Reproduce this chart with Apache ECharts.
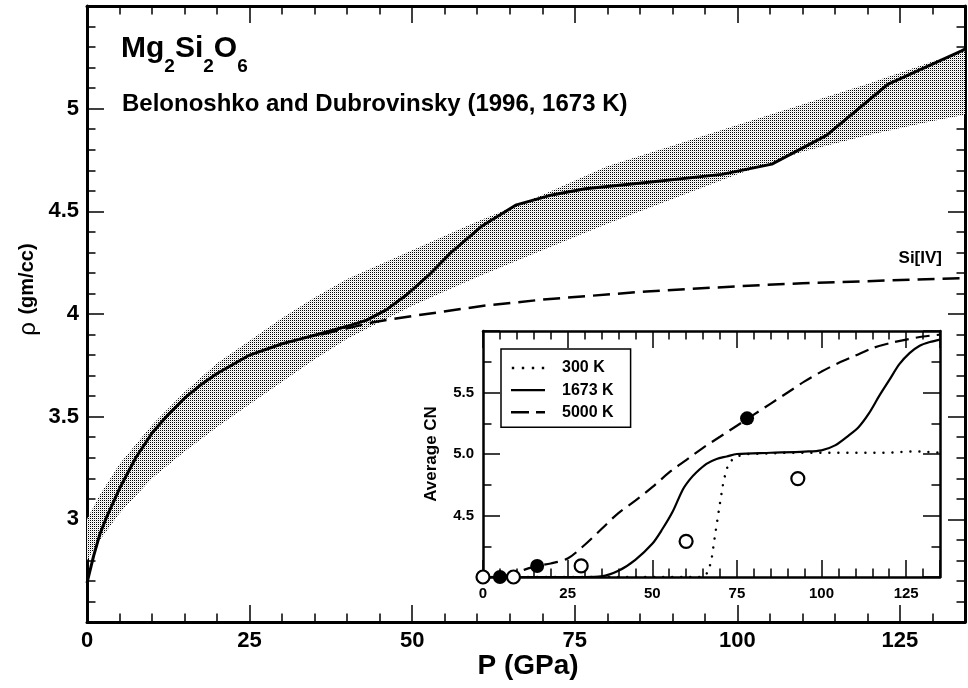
<!DOCTYPE html>
<html><head><meta charset="utf-8">
<script src="https://cdn.jsdelivr.net/npm/echarts@6/dist/echarts.min.js"></script>
<style>html,body{margin:0;padding:0;background:#fff}#c{width:968px;height:688px}</style>
</head><body><div id="c"></div>
<script>
const FONT = '"Liberation Sans", Arial, Helvetica, sans-serif';

// ---------- main panel data ----------
const bandP    = [0, 2, 5, 10, 15, 20, 25, 30, 35, 40, 50, 60, 70, 80, 90, 100, 110, 120, 130, 135];
const bandLow  = [2.80, 2.90, 3.03, 3.20, 3.33, 3.45, 3.56, 3.67, 3.78, 3.88, 4.04, 4.18, 4.31, 4.44, 4.56, 4.68, 4.79, 4.87, 4.94, 4.97];
const bandHigh = [3.00, 3.12, 3.27, 3.46, 3.62, 3.76, 3.87, 3.98, 4.08, 4.17, 4.31, 4.45, 4.58, 4.72, 4.82, 4.92, 5.02, 5.12, 5.23, 5.28];

const curveP   = [0, 1, 2, 3, 5, 7.5, 10, 12.5, 15, 17.5, 20, 25, 30, 33, 36, 40, 43, 46, 49, 52.6, 56, 60.8, 65.9, 71.5, 76.6, 86, 97.6, 105.3, 113.7, 123.2, 134.4, 135];
const curveRho = [2.69, 2.82, 2.93, 3.01, 3.15, 3.30, 3.42, 3.51, 3.59, 3.655, 3.71, 3.80, 3.855, 3.88, 3.905, 3.94, 3.97, 4.02, 4.09, 4.19, 4.30, 4.43, 4.53, 4.58, 4.61, 4.64, 4.68, 4.73, 4.87, 5.12, 5.28, 5.29];

const siP   = [36, 40, 44, 50, 61, 70, 86, 100, 110, 120, 135];
const siRho = [3.90, 3.93, 3.96, 3.99, 4.04, 4.07, 4.11, 4.135, 4.15, 4.16, 4.175];

const mainXLabels = [0, 25, 50, 75, 100, 125];
const mainYLabels = [3, 3.5, 4, 4.5, 5];

// ---------- inset data ----------
const k300P  = [0, 60, 65, 66.5, 67.5, 68.5, 70, 71, 72, 73, 75, 78, 90, 100, 110, 120, 125, 130, 135];
const k300CN = [4.0, 4.0, 4.0, 4.04, 4.14, 4.33, 4.6, 4.77, 4.88, 4.94, 4.98, 5.0, 5.01, 5.01, 5.01, 5.01, 5.02, 5.02, 5.01];

const k1673P  = [0, 30, 35, 40, 45, 50, 53, 56, 59, 61, 63, 66, 69, 72, 75, 85, 95, 100, 104, 108, 111, 114, 117, 120, 123, 126, 129, 132, 135];
const k1673CN = [4.0, 4.0, 4.005, 4.05, 4.14, 4.27, 4.39, 4.53, 4.71, 4.79, 4.85, 4.92, 4.96, 4.98, 5.0, 5.01, 5.02, 5.03, 5.07, 5.15, 5.22, 5.33, 5.47, 5.6, 5.73, 5.82, 5.88, 5.91, 5.93];

const k5000P  = [0, 5, 10, 16, 20, 25, 30, 35, 40, 45, 50, 55, 60, 65, 70, 75, 80, 85, 90, 95, 100, 105, 110, 115, 120, 125, 130, 135];
const k5000CN = [4.0, 4.0, 4.04, 4.09, 4.11, 4.15, 4.26, 4.39, 4.52, 4.62, 4.73, 4.85, 4.95, 5.05, 5.14, 5.23, 5.32, 5.41, 5.50, 5.59, 5.67, 5.74, 5.80, 5.86, 5.90, 5.93, 5.955, 5.97];

const openP  = [0, 9, 29, 60, 93];
const openCN = [4.0, 4.0, 4.09, 4.29, 4.8];
const fillP  = [5, 16, 78];
const fillCN = [4.0, 4.09, 5.29];

const insetXLabels = [0, 25, 50, 75, 100, 125];
const insetYLabels = ['4.5', '5.0', '5.5'];

const zip = (a, b) => a.map((v, i) => [v, b[i]]);

// stipple pattern
const pat = document.createElement('canvas');
pat.width = 2; pat.height = 2;
const pc = pat.getContext('2d');
pc.fillStyle = '#fff'; pc.fillRect(0, 0, 2, 2);
pc.fillStyle = '#000'; pc.fillRect(0, 0, 1, 1);
pc.fillStyle = '#ddd'; pc.fillRect(1, 1, 1, 1);

// text helpers
const mctx = document.createElement('canvas').getContext('2d');
function tw(t, size) { mctx.font = 'bold ' + size + 'px ' + FONT; return mctx.measureText(t).width; }
function txt(text, x, y, font, align, rot) {
  const el = { type: 'text', x: x, y: y, z: 100, style: { text: text, font: font, fill: '#000', align: align, verticalAlign: 'middle', textAlign: align, textVerticalAlign: 'middle' } };
  if (rot) el.rotation = rot;
  return el;
}
const titlePieces = [['Mg', 30, 0], ['2', 19, 1], ['Si', 30, 0], ['2', 19, 1], ['O', 30, 0], ['6', 19, 1]];
const graphics = [];
let tx = 121;
titlePieces.forEach(p => {
  graphics.push(txt(p[0], tx, p[2] ? 67 : 49, 'bold ' + p[1] + 'px ' + FONT, 'left'));
  tx += tw(p[0], p[1]);
});
graphics.push(txt('Belonoshko and Dubrovinsky (1996, 1673 K)', 122, 104, 'bold 24px ' + FONT, 'left'));
graphics.push(txt('Si[IV]', 942, 258, 'bold 17px ' + FONT, 'right'));
graphics.push(txt('P (GPa)', 528, 666, 'bold 28px ' + FONT, 'center'));
graphics.push(txt('(gm/cc)', 27, 279, 'bold 20px ' + FONT, 'center', Math.PI / 2));
graphics.push(txt('ρ', 28, 329, 'normal 24px ' + FONT, 'center', Math.PI / 2));
graphics.push(txt('Average CN', 431, 454, 'bold 17px ' + FONT, 'center', Math.PI / 2));

function axisCommon(lw, fs, margin) {
  return {
    axisLine: { show: true, onZero: false, lineStyle: { color: '#000', width: lw } },
    axisTick: { show: true, inside: true, length: 17, lineStyle: { color: '#000', width: 1.5 } },
    splitLine: { show: false },
    axisLabel: { show: true, color: '#000', fontFamily: FONT, fontWeight: 'bold', fontSize: fs, margin: margin }
  };
}
function xAx(grid, pos, showLabel, lw, fs, margin, labels) {
  const a = axisCommon(lw, fs, margin);
  a.type = 'value'; a.gridIndex = grid; a.position = pos; a.min = 0; a.max = 135; a.interval = 25;
  a.minorTick = { show: true, splitNumber: 5, length: 8.5, lineStyle: { color: '#000', width: 1.5 } };
  a.axisLabel.show = showLabel;
  a.axisLabel.formatter = v => (labels.indexOf(v) >= 0 ? String(v) : '');
  return a;
}
function yAx(grid, pos, showLabel, lw, fs, margin, min, max, split, fmt) {
  const a = axisCommon(lw, fs, margin);
  a.type = 'value'; a.gridIndex = grid; a.position = pos; a.min = min; a.max = max; a.interval = 0.5;
  a.minorTick = { show: true, splitNumber: split, length: 8.5, lineStyle: { color: '#000', width: 1.5 } };
  a.axisLabel.show = showLabel;
  a.axisLabel.formatter = fmt;
  return a;
}

// legend icons (line samples)
const ICON_DOT = 'path://M0,0h2.4v2.4h-2.4z M10,0h2.4v2.4h-2.4z M20,0h2.4v2.4h-2.4z M30,0h2.4v2.4h-2.4z';
const ICON_SOLID = 'path://M0,0h34v2.4h-34z';
const ICON_DASH = 'path://M0,0h18v2.4h-18z M25,0h9v2.4h-9z';

const option = {
  animation: false,
  backgroundColor: '#fff',
  grid: [
    { left: 87, top: 6, right: 2, bottom: 66, containLabel: false },
    { left: 483, top: 331, width: 457, height: 246, containLabel: false }
  ],
  xAxis: [
    xAx(0, 'bottom', true, 3, 22, 8, mainXLabels),
    xAx(0, 'top', false, 3, 22, 8, mainXLabels),
    xAx(1, 'bottom', true, 2.5, 15, 9, insetXLabels),
    xAx(1, 'top', false, 2.5, 15, 9, insetXLabels)
  ],
  yAxis: [
    yAx(0, 'left', true, 3, 22, 8, 2.5, 5.5, 5, v => { const i = mainYLabels.findIndex(t => Math.abs(t - v) < 1e-6); return i >= 0 ? String(mainYLabels[i]) : ''; }),
    yAx(0, 'right', false, 3, 22, 8, 2.5, 5.5, 5, () => ''),
    yAx(1, 'left', true, 2.5, 15, 9, 4, 6, 2, v => { const s = v.toFixed(1); return insetYLabels.indexOf(s) >= 0 ? s : ''; }),
    yAx(1, 'right', false, 2.5, 15, 9, 4, 6, 2, () => '')
  ],
  legend: {
    data: [{ name: '300 K', icon: ICON_DOT }, { name: '1673 K', icon: ICON_SOLID }, { name: '5000 K', icon: ICON_DASH }],
    orient: 'vertical', left: 501, top: 349,
    padding: [11, 17, 7, 10],
    itemWidth: 34, itemHeight: 2.4, itemGap: 6.1,
    borderColor: '#000', borderWidth: 1.5, backgroundColor: '#fff',
    textStyle: { color: '#000', fontFamily: FONT, fontWeight: 'bold', fontSize: 16, lineHeight: 14, padding: [0, 0, 0, 12] },
    selectedMode: false
  },
  graphic: graphics,
  series: [
    { name: 'band', type: 'custom', xAxisIndex: 0, yAxisIndex: 0, silent: true, z: 1,
      data: bandP.map((p, i) => [p, bandLow[i], bandHigh[i]]),
      encode: { x: 0, y: [1, 2] },
      renderItem: function (params, api) {
        if (params.dataIndex !== 0) return null;
        const pts = [];
        for (let i = 0; i < bandP.length; i++) pts.push(api.coord([bandP[i], bandHigh[i]]));
        for (let i = bandP.length - 1; i >= 0; i--) pts.push(api.coord([bandP[i], bandLow[i]]));
        return { type: 'polygon', shape: { points: pts }, style: { fill: { image: pat, repeat: 'repeat' }, stroke: null } };
      }
    },
    { name: 'Si[IV]', type: 'line', xAxisIndex: 0, yAxisIndex: 0, data: zip(siP, siRho), showSymbol: false, symbol: 'none', lineStyle: { color: '#000', width: 2.5, type: [17, 8] }, z: 3 },
    { name: 'main1673', type: 'line', xAxisIndex: 0, yAxisIndex: 0, data: zip(curveP, curveRho), showSymbol: false, symbol: 'none', lineStyle: { color: '#000', width: 3, join: 'round' }, z: 4 },
    { name: '300 K', type: 'line', xAxisIndex: 2, yAxisIndex: 2, data: zip(k300P, k300CN), showSymbol: false, symbol: 'none', itemStyle: { color: '#000' }, lineStyle: { color: '#000', width: 2.5, type: [0.01, 9], cap: 'round' }, z: 3 },
    { name: '1673 K', type: 'line', xAxisIndex: 2, yAxisIndex: 2, data: zip(k1673P, k1673CN), smooth: 0.3, showSymbol: false, symbol: 'none', itemStyle: { color: '#000' }, lineStyle: { color: '#000', width: 2.2 }, z: 3 },
    { name: '5000 K', type: 'line', xAxisIndex: 2, yAxisIndex: 2, data: zip(k5000P, k5000CN), smooth: 0.3, showSymbol: false, symbol: 'none', itemStyle: { color: '#000' }, lineStyle: { color: '#000', width: 2.2, type: [14, 7] }, z: 3 },
    { name: 'open', type: 'scatter', xAxisIndex: 2, yAxisIndex: 2, data: zip(openP, openCN), symbol: 'circle', symbolSize: 13, clip: false, itemStyle: { color: '#fff', borderColor: '#000', borderWidth: 2.2, opacity: 1 }, z: 5 },
    { name: 'filled', type: 'scatter', xAxisIndex: 2, yAxisIndex: 2, data: zip(fillP, fillCN), symbol: 'circle', symbolSize: 14, clip: false, itemStyle: { color: '#000', opacity: 1 }, z: 6 }
  ]
};
const chart = echarts.init(document.getElementById('c'), null, { renderer: 'canvas' });
chart.setOption(option);
</script></body></html>
